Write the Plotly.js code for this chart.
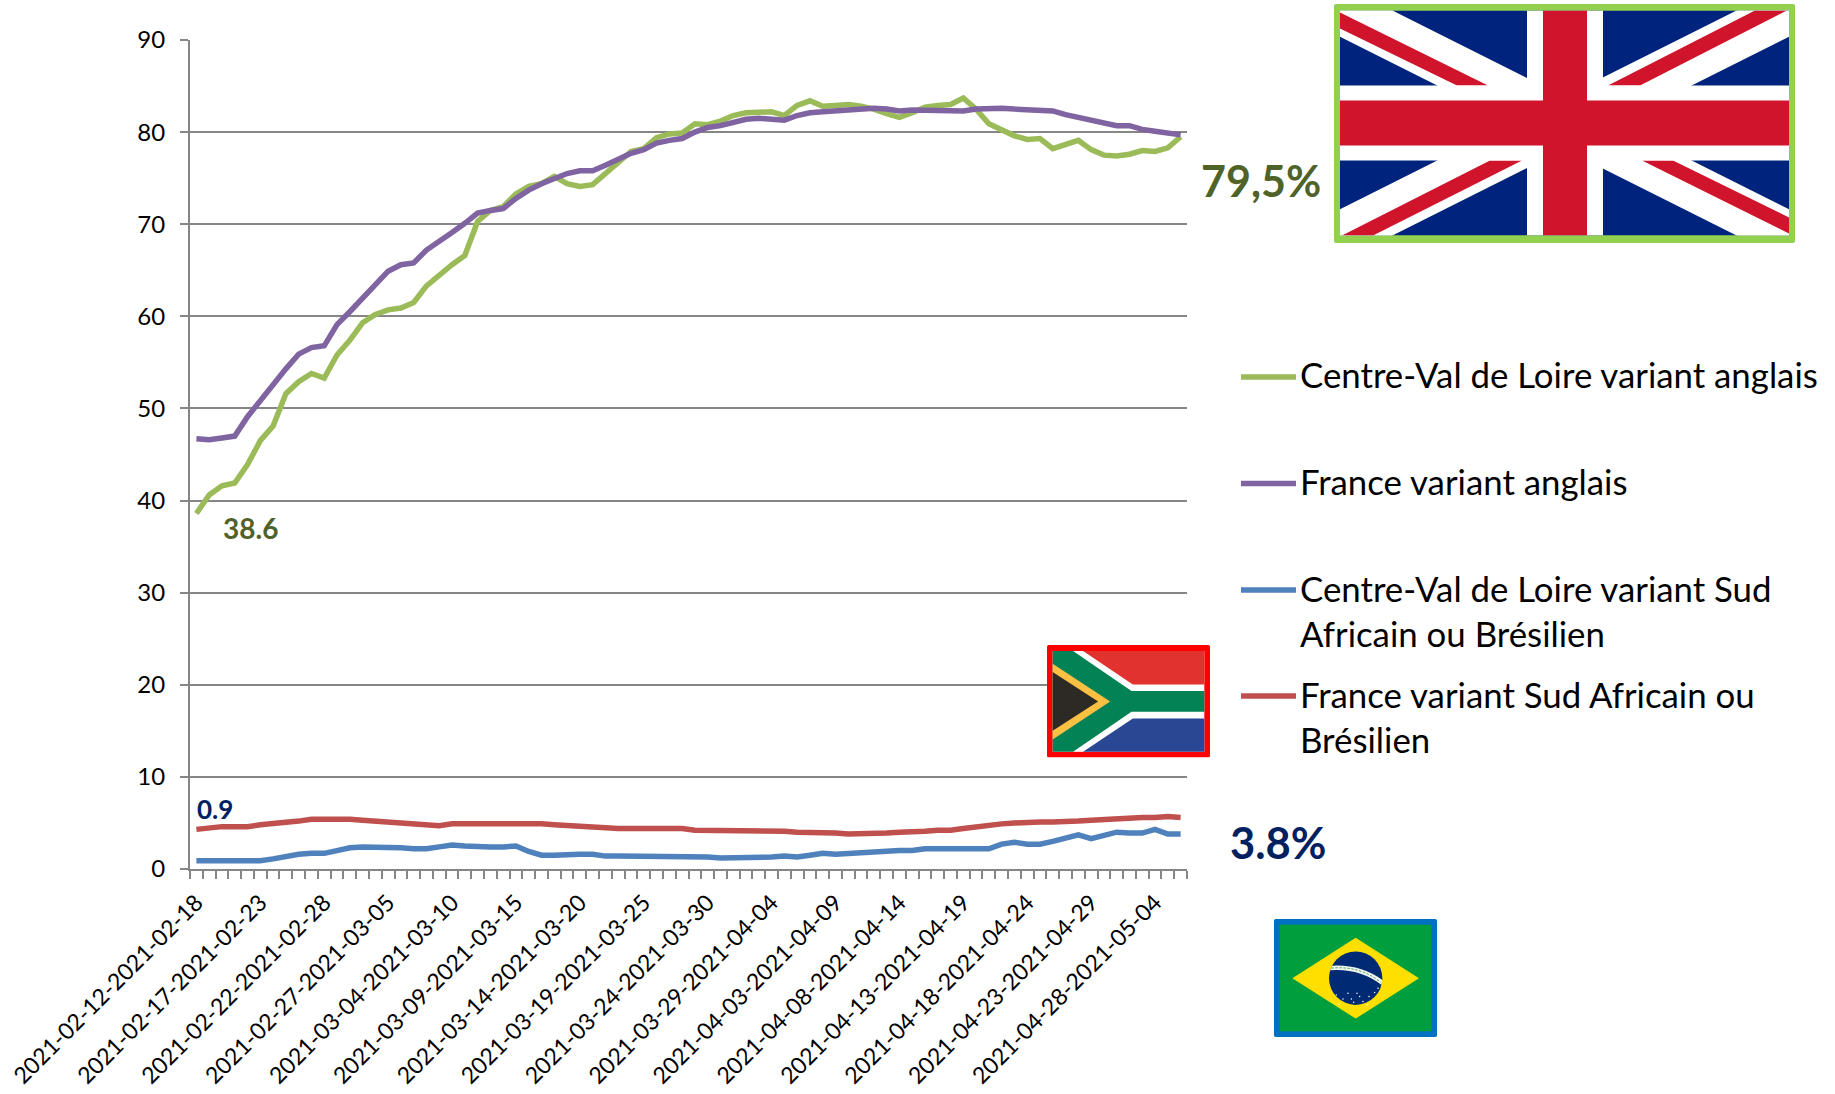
<!DOCTYPE html>
<html><head><meta charset="utf-8">
<script src="https://cdn.plot.ly/plotly-3.0.1.min.js"></script>
<style>html,body{margin:0;padding:0;background:#fff}#chart{width:1835px;height:1094px}</style>
</head><body><div id="chart"></div>
<script>
const categories = [
"2021-02-12-2021-02-18","2021-02-13-2021-02-19","2021-02-14-2021-02-20","2021-02-15-2021-02-21","2021-02-16-2021-02-22",
"2021-02-17-2021-02-23","2021-02-18-2021-02-24","2021-02-19-2021-02-25","2021-02-20-2021-02-26","2021-02-21-2021-02-27",
"2021-02-22-2021-02-28","2021-02-23-2021-03-01","2021-02-24-2021-03-02","2021-02-25-2021-03-03","2021-02-26-2021-03-04",
"2021-02-27-2021-03-05","2021-02-28-2021-03-06","2021-03-01-2021-03-07","2021-03-02-2021-03-08","2021-03-03-2021-03-09",
"2021-03-04-2021-03-10","2021-03-05-2021-03-11","2021-03-06-2021-03-12","2021-03-07-2021-03-13","2021-03-08-2021-03-14",
"2021-03-09-2021-03-15","2021-03-10-2021-03-16","2021-03-11-2021-03-17","2021-03-12-2021-03-18","2021-03-13-2021-03-19",
"2021-03-14-2021-03-20","2021-03-15-2021-03-21","2021-03-16-2021-03-22","2021-03-17-2021-03-23","2021-03-18-2021-03-24",
"2021-03-19-2021-03-25","2021-03-20-2021-03-26","2021-03-21-2021-03-27","2021-03-22-2021-03-28","2021-03-23-2021-03-29",
"2021-03-24-2021-03-30","2021-03-25-2021-03-31","2021-03-26-2021-04-01","2021-03-27-2021-04-02","2021-03-28-2021-04-03",
"2021-03-29-2021-04-04","2021-03-30-2021-04-05","2021-03-31-2021-04-06","2021-04-01-2021-04-07","2021-04-02-2021-04-08",
"2021-04-03-2021-04-09","2021-04-04-2021-04-10","2021-04-05-2021-04-11","2021-04-06-2021-04-12","2021-04-07-2021-04-13",
"2021-04-08-2021-04-14","2021-04-09-2021-04-15","2021-04-10-2021-04-16","2021-04-11-2021-04-17","2021-04-12-2021-04-18",
"2021-04-13-2021-04-19","2021-04-14-2021-04-20","2021-04-15-2021-04-21","2021-04-16-2021-04-22","2021-04-17-2021-04-23",
"2021-04-18-2021-04-24","2021-04-19-2021-04-25","2021-04-20-2021-04-26","2021-04-21-2021-04-27","2021-04-22-2021-04-28",
"2021-04-23-2021-04-29","2021-04-24-2021-04-30","2021-04-25-2021-05-01","2021-04-26-2021-05-02","2021-04-27-2021-05-03",
"2021-04-28-2021-05-04","2021-04-29-2021-05-05","2021-04-30-2021-05-06"];

const cvlAnglais = [
38.6,40.6,41.6,41.9,43.9,46.5,48.1,51.6,52.9,53.8,
53.3,55.8,57.4,59.3,60.2,60.7,60.9,61.5,63.3,64.5,
65.6,66.6,70.3,71.5,71.9,73.3,74.1,74.4,75.2,74.4,
74.1,74.3,75.5,76.7,77.9,78.2,79.4,79.8,79.9,80.9,
80.8,81.2,81.8,82.1,82.1,82.2,81.8,82.9,83.4,82.8,
82.9,83.0,82.8,82.5,82.0,81.6,82.1,82.7,82.9,83.0,
83.7,82.5,80.9,80.3,79.6,79.2,79.3,78.2,78.6,79.1,
78.1,77.5,77.4,77.6,78.0,77.9,78.3,79.5];

const franceAnglais = [
46.7,46.6,46.8,47.0,49.1,50.9,52.7,54.3,55.9,56.6,
56.8,59.1,60.5,62.0,63.4,64.9,65.6,65.8,67.2,68.1,
69.1,70.1,71.2,71.5,71.7,72.8,73.7,74.4,75.0,75.5,
75.8,75.8,76.4,77.0,77.7,78.1,78.8,79.1,79.3,80.0,
80.5,80.7,81.1,81.4,81.5,81.4,81.3,81.8,82.1,82.2,
82.3,82.5,82.5,82.6,82.5,82.3,82.4,82.4,82.3,82.3,
82.3,82.5,82.6,82.6,82.5,82.4,82.4,82.3,81.9,81.6,
81.3,80.9,80.7,80.7,80.3,80.1,79.9,79.7];

const cvlSudAfBr = [
0.9,0.9,0.9,0.9,0.8,0.9,1.1,1.4,1.6,1.7,
1.7,2.0,2.3,2.4,2.4,2.3,2.3,2.2,2.2,2.4,
2.6,2.5,2.4,2.4,2.4,2.5,1.9,1.5,1.5,1.6,
1.6,1.6,1.4,1.4,1.4,1.4,1.4,1.3,1.3,1.3,
1.3,1.2,1.2,1.2,1.3,1.3,1.4,1.3,1.5,1.7,
1.6,1.7,1.7,1.8,1.9,2.0,2.0,2.2,2.2,2.2,
2.1,2.2,2.2,2.7,2.9,2.7,2.7,3.0,3.4,3.7,
3.3,3.7,4.0,3.9,3.9,4.3,3.8,3.8];

const franceSudAfBr = [
4.3,4.5,4.6,4.6,4.6,4.8,4.9,5.0,5.2,5.4,
5.4,5.5,5.4,5.3,5.2,5.0,4.9,4.8,4.7,4.7,
4.9,4.9,5.0,5.0,5.0,4.9,5.0,4.9,4.8,4.7,
4.6,4.6,4.5,4.4,4.4,4.4,4.4,4.4,4.4,4.2,
4.2,4.2,4.2,4.1,4.1,4.1,4.1,4.0,4.0,4.0,
3.9,3.8,3.8,3.8,3.9,4.0,4.0,4.1,4.2,4.2,
4.4,4.6,4.7,4.9,5.0,5.1,5.1,5.1,5.1,5.2,
5.3,5.4,5.5,5.5,5.6,5.6,5.7,5.6];

const seriesNames = ["Centre-Val de Loire variant anglais","France variant anglais",
  "Centre-Val de Loire variant Sud Africain ou Brésilien","France variant Sud Africain ou Brésilien"];
const seriesColors = ["#9BBB59","#8064A2","#4F81BD","#C0504D"];
const seriesValues = [cvlAnglais,franceAnglais,cvlSudAfBr,franceSudAfBr];
const legendLines = [["Centre-Val de Loire variant anglais"],["France variant anglais"],
  ["Centre-Val de Loire variant Sud","Africain ou Brésilien"],["France variant Sud Africain ou","Brésilien"]];

// page geometry
const W=1835,H=1094,L=190,T=40,PW=997,PH=829;
const px=x=>(x-L)/PW, py=y=>(T+PH-y)/PH;
const FONT='Lato, "Open Sans", sans-serif';

const traces = seriesNames.map((n,i)=>({type:'scatter',mode:'lines',name:n,x:categories,y:seriesValues[i],
  line:{color:seriesColors[i],width:5.5,shape:'linear'},hoverinfo:'x+y+name'}));

const annotations=[], shapes=[];
const legendY=[377,483.5,590,696];
legendLines.forEach((lines,i)=>{
  shapes.push({type:'line',xref:'paper',yref:'paper',x0:px(1241),x1:px(1296),y0:py(legendY[i]),y1:py(legendY[i]),
    line:{color:seriesColors[i],width:5.5,cap:'round'}});
  lines.forEach((t,j)=>annotations.push({text:t,xref:'paper',yref:'paper',x:px(1298),y:py(legendY[i]-2+j*45),
    xanchor:'left',yanchor:'middle',showarrow:false,align:'left',font:{family:FONT,size:34.8,color:'#000'}}));
});
const callouts=[
  {t:'79,5%',x:1199,y:181,s:43,c:'#4F6228'},
  {t:'3.8%',x:1228,y:842,s:43.5,c:'#002060'},
  {t:'38.6',x:221,y:528,s:28,c:'#4F6228'},
  {t:'0.9',x:195,y:809,s:26,c:'#002060'}];
callouts.forEach(c=>annotations.push({text:'<b>'+c.t+'</b>',xref:'paper',yref:'paper',x:px(c.x),y:py(c.y),
  xanchor:'left',yanchor:'middle',showarrow:false,font:{family:FONT,size:c.s,color:c.c}}));

const svg=(w,h,body)=>'data:image/svg+xml;charset=utf-8,'+encodeURIComponent(
 `<svg xmlns="http://www.w3.org/2000/svg" width="${w}" height="${h}" viewBox="0 0 ${w} ${h}">${body}</svg>`);

const ukFlag=svg(461,239,`<rect width="461" height="239" rx="2" fill="#92D050"/><g transform="translate(6,6.5)">
<clipPath id="c"><rect width="449" height="225"/></clipPath><g clip-path="url(#c)">
<rect width="449" height="225" fill="#00247D"/>
<path d="M0,0L449,225M449,0L0,225" stroke="#fff" stroke-width="47"/>
<polygon fill="#CF142B" points="0,2 0,18 117,75 148,75"/>
<polygon fill="#CF142B" points="415,0 447,0 300,75 268,75"/>
<polygon fill="#CF142B" points="2,225 33,225 182,150 150,150"/>
<polygon fill="#CF142B" points="302,150 333,150 449,207 449,223"/>
<rect x="187" width="76" height="225" fill="#fff"/><rect y="75" width="449" height="75" fill="#fff"/>
<rect x="203" width="44" height="225" fill="#CF142B"/><rect y="90" width="449" height="45" fill="#CF142B"/>
</g></g>`);

const zaFlag=svg(488,337,`<rect width="488" height="337" rx="5" fill="#FF0000"/><g transform="translate(17,18)">
<rect width="454" height="302" fill="#fff"/>
<polygon fill="#E1322F" points="91,0 454,0 454,100 240,100"/>
<polygon fill="#2A4793" points="91,302 454,302 454,202 240,202"/>
<polygon fill="#038256" points="0,0 61,0 236,120 454,120 454,182 236,182 61,302 0,302"/>
<polygon fill="#FDC043" points="0,38 172,151 0,265"/>
<polygon fill="#2D2A26" points="0,63 136,151 0,239"/>
</g>`);

const brStars=[[170,210],[190,222],[205,205],[222,232],[232,205],[250,230],[268,215],[285,203],[178,238],[240,215],[262,240],[295,190],[215,222]];
const brFlag=svg(489,353,`<rect width="489" height="353" rx="5" fill="#0070C0"/><g transform="translate(17,17)">
<clipPath id="k"><circle cx="228" cy="160" r="80"/></clipPath>
<rect width="455" height="319" fill="#009E3D"/>
<polygon fill="#FEDF00" points="38,160 228,39 418,160 228,281"/>
<circle cx="228" cy="160" r="80" fill="#012A75"/>
<path clip-path="url(#k)" d="M148,130 Q240,122 310,175" fill="none" stroke="#F2F5EC" stroke-width="13"/>
<path clip-path="url(#k)" d="M155,130 Q240,122 303,172" fill="none" stroke="#1E8A4E" stroke-width="2.5" stroke-dasharray="7 5"/>
${brStars.map(p=>`<circle cx="${p[0]}" cy="${p[1]}" r="2.2" fill="#fff"/>`).join('')}
</g>`);

const flag=(src,x0,y0,x1,y1)=>({source:src,xref:'paper',yref:'paper',x:px(x0),y:py(y0),sizex:(x1-x0)/PW,sizey:(y1-y0)/PH,
  xanchor:'left',yanchor:'top',sizing:'stretch',layer:'above'});

const GRID='#868686';
const layout={
  width:W,height:H,margin:{l:L,t:T,r:W-L-PW,b:H-T-PH,pad:0},
  paper_bgcolor:'#fff',plot_bgcolor:'#fff',showlegend:false,
  font:{family:FONT,color:'#000'},
  xaxis:{type:'category',categoryorder:'array',categoryarray:categories,range:[-0.5,categories.length-0.5],
    tickmode:'array',tickvals:categories,ticktext:categories.map((c,i)=>i%5===0?c:''),
    tickson:'boundaries',ticks:'outside',ticklen:8,tickwidth:2,tickcolor:GRID,ticklabelstandoff:9,
    tickangle:-45,tickfont:{family:FONT,size:23,color:'#000'},
    showgrid:false,zeroline:false,showline:true,linecolor:GRID,linewidth:2,automargin:false},
  yaxis:{range:[0,90],tick0:0,dtick:10,ticks:'outside',ticklen:8,tickwidth:2,tickcolor:GRID,ticklabelstandoff:10,
    tickfont:{family:FONT,size:24,color:'#000'},
    showgrid:true,gridcolor:GRID,gridwidth:2,zeroline:false,showline:true,linecolor:GRID,linewidth:2,automargin:false},
  shapes,annotations,
  images:[flag(ukFlag,1334,4,1795,243),flag(zaFlag,1047,645,1210,757.5),flag(brFlag,1274,919,1437,1037)]
};
Plotly.newPlot('chart',traces,layout,{displayModeBar:false,staticPlot:true});
</script></body></html>
